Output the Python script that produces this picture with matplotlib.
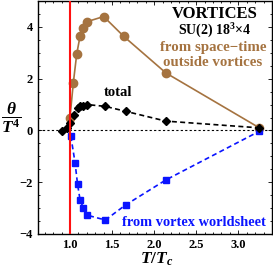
import matplotlib
matplotlib.use("Agg")
import matplotlib.pyplot as plt
from matplotlib.ticker import MultipleLocator

# Data
t_out = [1.00, 1.04, 1.08, 1.12, 1.16, 1.20, 1.40, 1.64, 2.14, 3.25]
v_out = [0.50, 1.85, 2.95, 3.65, 3.95, 4.20, 4.40, 3.63, 2.22, 0.10]

t_tot = [0.91, 0.96, 1.00, 1.045, 1.09, 1.12, 1.16, 1.20, 1.42, 1.66, 2.14, 3.25]
v_tot = [-0.03, 0.10, 0.30, 0.58, 0.87, 0.93, 0.96, 1.00, 0.93, 0.74, 0.36, 0.10]

t_ws = [1.01, 1.06, 1.09, 1.12, 1.16, 1.20, 1.42, 1.66, 2.14, 3.25]
v_ws = [-0.22, -1.24, -2.08, -2.69, -3.00, -3.27, -3.46, -2.88, -1.91, -0.03]

x_ticks = [1.0, 1.5, 2.0, 2.5, 3.0]
x_tick_labels = ["1.0", "1.5", "2.0", "2.5", "3.0"]
y_ticks = [-4, -2, 0, 2, 4]
y_tick_labels = ["\u22124", "\u22122", "0", "2", "4"]

plt.rcParams['font.family'] = ['Liberation Serif', 'DejaVu Serif']
plt.rcParams['mathtext.fontset'] = 'custom'
plt.rcParams['mathtext.rm'] = 'Liberation Serif:bold'
plt.rcParams['mathtext.it'] = 'Liberation Serif:bold:italic'
plt.rcParams['mathtext.bf'] = 'Liberation Serif:bold'

W, H = 273, 268
fig = plt.figure(figsize=(W / 100, H / 100), dpi=100)
ax = fig.add_axes([38 / W, 1 - 234 / H, (272 - 38) / W, (234 - 1) / H])

brown = '#a57340'
blue = '#0a14ff'

ax.axhline(0, color='black', lw=0.8, ls=(0, (2, 2)), zorder=1)
ax.plot(t_out, v_out, '-', color=brown, lw=1.2, marker='o', ms=6, zorder=2)
ax.plot(t_ws, v_ws, color=blue, lw=1.2, ls=(0, (3, 2)), marker='s', ms=5, zorder=3)
ax.plot(t_tot, v_tot, color='black', lw=1.2, ls=(0, (3, 2)), marker='D', ms=4, zorder=4)
ax.axvline(1.0, color='#ff1010', lw=1.5, zorder=5)

ax.set_xlim(0.62, 3.40)
ax.set_ylim(-4, 5)
ax.set_xticks(x_ticks)
ax.set_xticklabels(x_tick_labels)
ax.set_yticks(y_ticks)
ax.set_yticklabels(y_tick_labels)
ax.xaxis.set_minor_locator(MultipleLocator(0.1))
ax.yaxis.set_minor_locator(MultipleLocator(0.5))
ax.tick_params(which='both', direction='in', top=True, right=True, labelsize=9, width=0.6)
ax.tick_params(which='major', length=3)
ax.tick_params(which='minor', length=1.5)
for lab in ax.get_xticklabels() + ax.get_yticklabels():
    lab.set_fontweight('bold')
for s in ax.spines.values():
    s.set_linewidth(1.0)

def ft(x, y, s, **kw):
    fig.text(x / W, 1 - y / H, s, ha='center', va='center', fontweight='bold', **kw)

ft(215, 14, "VORTICES", fontsize=12)
ft(215, 31, "SU(2) 18$^3$\u00d74", fontsize=10)
ft(213, 48, "from space\u2212time", fontsize=10.7)
ft(213, 62, "outside vortices", fontsize=10.7)
for t in fig.texts[-2:]:
    t.set_color(brown)
ft(118, 93, "total", fontsize=10.5)
ft(194, 222, "from vortex worldsheet", fontsize=10.4, color=blue)
ft(11, 118, r"$\dfrac{\theta}{T^4}$", fontsize=12.5)
fig.text(157 / W, 1 - 264 / H, r"$T/T_c$", ha='center', va='baseline', fontsize=12.5)

fig.savefig("out.png", dpi=100)
